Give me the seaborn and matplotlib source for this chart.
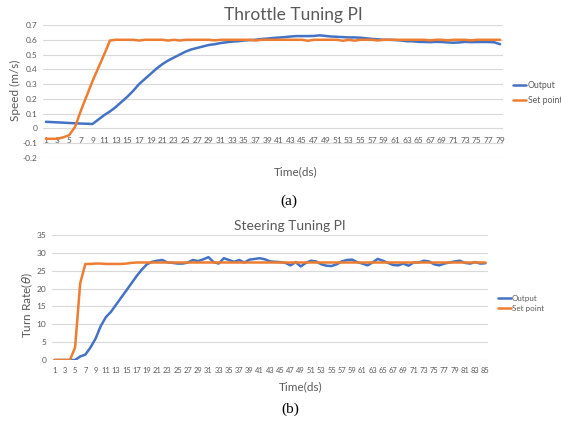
import matplotlib
matplotlib.use("Agg")
import matplotlib.pyplot as plt
import numpy as np
import pandas as pd
import seaborn as sns

# Throttle tuning (a)
throttle_output = [
    0.045, 0.043, 0.041, 0.039, 0.037, 0.035, 0.033, 0.032, 0.030, 0.060,
    0.090, 0.115, 0.145, 0.180, 0.215, 0.255, 0.300, 0.335, 0.370, 0.405,
    0.435, 0.460, 0.480, 0.500, 0.520, 0.535, 0.545, 0.555, 0.565, 0.570,
    0.578, 0.583, 0.588, 0.590, 0.595, 0.598, 0.600, 0.605, 0.608, 0.612,
    0.615, 0.618, 0.622, 0.625, 0.625, 0.625, 0.626, 0.630, 0.626, 0.622,
    0.620, 0.618, 0.616, 0.616, 0.614, 0.610, 0.606, 0.603, 0.600, 0.600,
    0.598, 0.595, 0.590, 0.590, 0.586, 0.585, 0.584, 0.586, 0.585, 0.582,
    0.580, 0.582, 0.586, 0.584, 0.585, 0.585, 0.585, 0.583, 0.570,
]
throttle_setpoint = [
    -0.070, -0.070, -0.070, -0.060, -0.045, 0.010, 0.120, 0.220, 0.320, 0.410,
    0.500, 0.595, 0.600, 0.600, 0.600, 0.600, 0.595, 0.600, 0.600, 0.600,
    0.600, 0.595, 0.600, 0.595, 0.600, 0.600, 0.600, 0.600, 0.600, 0.596,
    0.600, 0.600, 0.600, 0.600, 0.600, 0.600, 0.595, 0.600, 0.600, 0.600,
    0.600, 0.600, 0.600, 0.600, 0.600, 0.593, 0.600, 0.600, 0.600, 0.600,
    0.600, 0.593, 0.600, 0.594, 0.600, 0.600, 0.600, 0.595, 0.600, 0.600,
    0.600, 0.600, 0.600, 0.600, 0.600, 0.600, 0.596, 0.600, 0.600, 0.596,
    0.600, 0.600, 0.600, 0.596, 0.600, 0.600, 0.600, 0.600, 0.600,
]

# Steering tuning (b)
steering_output = [
    0.0, 0.0, 0.0, 0.0, 0.0, 1.0, 1.5, 3.5, 6.0, 9.5,
    12.0, 13.5, 15.5, 17.5, 19.5, 21.5, 23.5, 25.3, 26.8, 27.5,
    27.8, 28.0, 27.3, 27.2, 27.0, 27.0, 27.3, 28.0, 27.7, 28.2,
    28.8, 27.4, 27.0, 28.5, 28.0, 27.5, 28.0, 27.3, 28.1, 28.3,
    28.5, 28.2, 27.6, 27.5, 27.4, 27.2, 26.5, 27.4, 26.2, 27.2,
    27.8, 27.6, 26.8, 26.4, 26.3, 26.8, 27.6, 28.0, 28.1, 27.4,
    27.0, 26.5, 27.3, 28.3, 27.8, 27.2, 26.6, 26.5, 27.0, 26.4,
    27.3, 27.3, 27.8, 27.6, 26.8, 26.5, 27.0, 27.3, 27.6, 27.8,
    27.2, 27.0, 27.4, 27.0, 27.1,
]
steering_setpoint = [
    0.0, 0.0, 0.0, 0.0, 3.5, 21.5, 26.9, 26.9, 27.0, 27.0,
    26.9, 26.9, 26.9, 26.9, 27.0, 27.2, 27.3, 27.3, 27.3, 27.3,
    27.3, 27.3, 27.3, 27.3, 27.3, 27.3, 27.3, 27.3, 27.3, 27.3,
    27.3, 27.3, 27.3, 27.3, 27.3, 27.3, 27.3, 27.3, 27.3, 27.3,
    27.3, 27.3, 27.3, 27.3, 27.3, 27.3, 27.3, 27.3, 27.3, 27.3,
    27.3, 27.3, 27.3, 27.3, 27.3, 27.3, 27.3, 27.3, 27.3, 27.3,
    27.3, 27.3, 27.3, 27.3, 27.3, 27.3, 27.3, 27.3, 27.3, 27.3,
    27.3, 27.3, 27.3, 27.3, 27.3, 27.3, 27.3, 27.3, 27.3, 27.3,
    27.3, 27.3, 27.3, 27.3, 27.3,
]

SERIES = ["Output", "Set point"]
PALETTE = {"Output": "#4472C4", "Set point": "#ED7D31"}
GRID = "#d9d9d9"
TEXT = "#595959"
FONT = "Lato"


def long_frame(output, setpoint):
    t = np.arange(1, len(output) + 1)
    return pd.concat([
        pd.DataFrame({"t": t, "value": output, "series": "Output"}),
        pd.DataFrame({"t": t, "value": setpoint, "series": "Set point"}),
    ])


def draw_panel(ax, df, n, yticks, ylabels, pad, xsize):
    sns.lineplot(data=df, x="t", y="value", hue="series", hue_order=SERIES,
                 palette=PALETTE, linewidth=1.8, ax=ax)
    # moving the spine resets the ticks, so do it before styling them
    for s in ax.spines.values():
        s.set_visible(False)
    ax.spines["bottom"].set_position(("data", 0))
    ax.set_xlim(0.5, n + 0.5)
    ax.set_ylim(yticks[0], yticks[-1])
    ax.set_yticks(yticks)
    ax.set_yticklabels(ylabels, fontsize=6, color=TEXT, family=FONT)
    ax.set_xticks(np.arange(1, n + 1, 2))
    ax.set_xticklabels([str(v) for v in range(1, n + 1, 2)],
                       fontsize=xsize, color=TEXT, family=FONT)
    ax.tick_params(axis="both", length=0)
    ax.tick_params(axis="x", pad=pad)
    ax.tick_params(axis="y", pad=4)
    ax.grid(axis="y", color=GRID, linewidth=0.8)
    ax.grid(axis="x", visible=False)
    ax.set_axisbelow(True)
    ax.set_xlabel("")
    ax.set_ylabel("")


sns.set_theme(style="white")
plt.rcParams["font.family"] = [FONT, "DejaVu Sans"]

W, H = 561, 425
fig = plt.figure(figsize=(W / 100, H / 100), dpi=100)

# (a) throttle
ax1 = fig.add_axes([43 / W, 1 - 158 / H, 460 / W, 133 / H])
yt1 = [round(v, 1) for v in np.arange(-0.2, 0.71, 0.1)]
draw_panel(ax1, long_frame(throttle_output, throttle_setpoint), len(throttle_output),
           yt1, ["0" if v == 0 else f"{v:g}" for v in yt1], pad=6, xsize=6)
ax1.legend(handles=ax1.get_legend().legend_handles, labels=SERIES,
           loc="upper left", bbox_to_anchor=(509 / W, 1 - 77 / H),
           bbox_transform=fig.transFigure, frameon=False, fontsize=6.2,
           handlelength=1.5, handletextpad=0.15, labelspacing=0.7,
           borderpad=0, labelcolor=TEXT)

fig.text(293 / W, 1 - 15 / H, "Throttle Tuning PI", ha="center", va="center",
         fontsize=12.5, color=TEXT)
fig.text(15 / W, 1 - 90 / H, "Speed (m/s)", ha="center", va="center",
         rotation=90, fontsize=8.5, color=TEXT)
fig.text(296 / W, 1 - 172 / H, "Time(ds)", ha="center", va="center",
         fontsize=8.5, color=TEXT)
fig.text(289 / W, 1 - 201 / H, "(a)", ha="center", va="center",
         fontsize=11, family="Liberation Serif", color="black")

# (b) steering
ax2 = fig.add_axes([52 / W, 1 - 360 / H, 436 / W, 125 / H])
yt2 = list(range(0, 36, 5))
draw_panel(ax2, long_frame(steering_output, steering_setpoint), len(steering_output),
           yt2, [str(v) for v in yt2], pad=5, xsize=5.4)
ax2.legend(handles=ax2.get_legend().legend_handles, labels=SERIES,
           loc="upper left", bbox_to_anchor=(494 / W, 1 - 291 / H),
           bbox_transform=fig.transFigure, frameon=False, fontsize=5.8,
           handlelength=1.6, handletextpad=0.15, labelspacing=0.35,
           borderpad=0, labelcolor=TEXT)

fig.text(290 / W, 1 - 226 / H, "Steering Tuning PI", ha="center", va="center",
         fontsize=10, color=TEXT)
fig.text(27 / W, 1 - 305 / H, r"Turn Rate($\theta$)", ha="center", va="center",
         rotation=90, fontsize=8.5, color=TEXT)
fig.text(301 / W, 1 - 387 / H, "Time(ds)", ha="center", va="center",
         fontsize=8.5, color=TEXT)
fig.text(290 / W, 1 - 409 / H, "(b)", ha="center", va="center",
         fontsize=11, family="Liberation Serif", color="black")

fig.savefig("out.png", dpi=100)
